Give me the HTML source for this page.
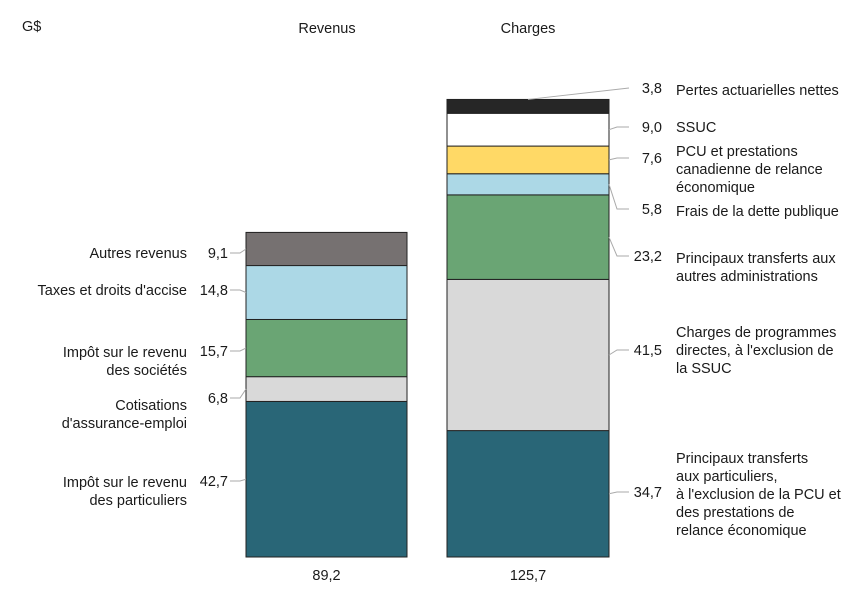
<!DOCTYPE html>
<html><head><meta charset="utf-8"><style>
html,body{margin:0;padding:0;background:#fff}
svg{display:block;font-family:"Liberation Sans",Arial,sans-serif;font-size:14.5px;fill:#1a1a1a}
</style></head><body>
<svg id="c" width="864" height="601" xmlns="http://www.w3.org/2000/svg">
<text x="22" y="31">G$</text>
<text x="327" y="33" text-anchor="middle">Revenus</text>
<text x="528" y="33" text-anchor="middle">Charges</text>
</svg>
<script>
const revValues=[42.7,6.8,15.7,14.8,9.1];
const revTotal=89.2;
const revLabels=[["Impôt sur le revenu","des particuliers"],["Cotisations","d'assurance-emploi"],["Impôt sur le revenu","des sociétés"],["Taxes et droits d'accise"],["Autres revenus"]];
const revColors=["#296677","#d9d9d9","#6aa574","#acd8e6","#767171"];
const chgValues=[34.7,41.5,23.2,5.8,7.6,9.0,3.8];
const chgTotal=125.7;
const chgLabels=[["Principaux transferts","aux particuliers,","à l'exclusion de la PCU et","des prestations de","relance économique"],["Charges de programmes","directes, à l'exclusion de","la SSUC"],["Principaux transferts aux","autres administrations"],["Frais de la dette publique"],["PCU et prestations","canadienne de relance","économique"],["SSUC"],["Pertes actuarielles nettes"]];
const chgColors=["#296677","#d9d9d9","#6aa574","#acd8e6","#ffd966","#ffffff","#262626"];
// layout (pixel) positions of annotations
const revValY=[481,398,351,290,253], revTxtY=[482,405,352,290,253];
const chgValY=[492,350,256,209,158,127,88], chgTxtY=[458,332,258,211,151,127,90];
const svg=document.getElementById('c');const NS="http://www.w3.org/2000/svg";
const base=557,scale=3.643;
const y=v=>base-v*scale;
const fmt=v=>v.toFixed(1).replace('.',',');
function el(t,a){const e=document.createElementNS(NS,t);for(const k in a)e.setAttribute(k,a[k]);svg.appendChild(e);return e;}
function textLines(x,ty,lines,anchor,name){const t=el('text',{x:x,'text-anchor':anchor});


lines.forEach((s,i)=>{const sp=document.createElementNS(NS,'tspan');sp.setAttribute('x',x);sp.setAttribute('y',ty+5+i*18);sp.textContent=s;t.appendChild(sp);});}
function stack(vals,total,cols,labs,vy,ty,x0,w,side,pref){let cum=0;
vals.forEach((v,i)=>{const top=y(cum+v),bot=y(cum);
const r=el('rect',{x:x0,y:top,width:w,height:bot-top,fill:cols[i],stroke:'#222','stroke-width':1});


const mid=(top+bot)/2;
if(side==='left'){
 const l=el('path',{d:`M${x0},${mid} L${x0-6},${vy[i]} L${x0-16},${vy[i]}`,fill:'none',stroke:'#aaa'});
 
 
 textLines(x0-18,vy[i],[fmt(v)],'end',pref+'-value-'+(i+1));
 textLines(187,ty[i],labs[i],'end',pref+'-label-'+(i+1));
}else{
 const last=i===vals.length-1;
 const sx=last?x0+w/2:x0+w;const sy=last?top:mid;
 const l=el('path',{d:`M${sx},${sy} L${x0+w+(last?20:8)},${vy[i]} L${x0+w+20},${vy[i]}`,fill:'none',stroke:'#aaa'});
 
 
 textLines(662,vy[i],[fmt(v)],'end',pref+'-value-'+(i+1));
 textLines(676,ty[i],labs[i],'start',pref+'-label-'+(i+1));
}
cum+=v;});
textLines(x0+w/2,575,[fmt(total)],'middle',pref+'-total');}
stack(revValues,revTotal,revColors,revLabels,revValY,revTxtY,246,161,'left','revenue');
stack(chgValues,chgTotal,chgColors,chgLabels,chgValY,chgTxtY,447,162,'right','charges');
</script>
</body></html>
